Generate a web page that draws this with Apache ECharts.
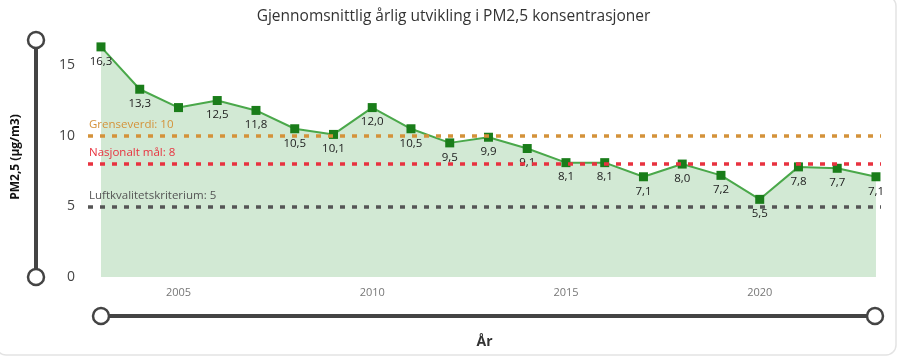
<!DOCTYPE html>
<html><head><meta charset="utf-8">
<script src="https://cdn.jsdelivr.net/npm/echarts@6/dist/echarts.min.js"></script>
<style>html,body{margin:0;padding:0;background:#fff}#c{width:907px;height:361px}</style>
</head><body><div id="c"></div>
<script>
const years = [2003,2004,2005,2006,2007,2008,2009,2010,2011,2012,2013,2014,2015,2016,2017,2018,2019,2020,2021,2022,2023];
const values = [16.3,13.3,12.0,12.5,11.8,10.5,10.1,12.0,10.5,9.5,9.9,9.1,8.1,8.1,7.1,8.0,7.2,5.5,7.8,7.7,7.1];
const hiddenLabelYears = [2005];
const xTickLabels = [2005,2010,2015,2020];
const yTicks = [0,5,10,15];
const limits = [
  {name:'Grenseverdi', value:10, color:'#d4923a'},
  {name:'Nasjonalt mål', value:8, color:'#e8323f'},
  {name:'Luftkvalitetskriterium', value:5, color:'#555555'}
];
const fmt = v => v.toFixed(1).replace('.', ',');
const FONT = "'Segoe UI','Open Sans','Noto Sans',sans-serif";
const chart = echarts.init(document.getElementById('c'));
chart.setOption({
  animation:false,
  textStyle:{fontFamily:FONT},
  title:{text:'Gjennomsnittlig årlig utvikling i PM2,5 konsentrasjoner',left:'center',top:4,
    textStyle:{fontSize:15.5,fontWeight:'normal',color:'#333',fontFamily:FONT}},
  grid:{left:88,right:26,top:37,bottom:84},
  xAxis:{type:'value',min:2002.665,max:2023.13,
    name:'År',nameLocation:'middle',nameGap:58,
    nameTextStyle:{fontSize:14,fontWeight:'bold',color:'#333',fontFamily:FONT},
    axisLine:{show:false},axisTick:{show:false},splitLine:{show:false},
    axisLabel:{customValues:xTickLabels,formatter:v=>String(v),color:'#777',fontSize:11,margin:10,fontFamily:FONT}},
  yAxis:{type:'value',min:0,max:17,
    name:'PM2,5 (µg/m3)',nameLocation:'middle',nameGap:66,nameRotate:90,
    nameTextStyle:{fontSize:12,fontWeight:'bold',color:'#111',fontFamily:FONT},
    axisLine:{show:false},axisTick:{show:false},splitLine:{show:false},
    axisLabel:{customValues:yTicks,color:'#444',fontSize:14,margin:13,fontFamily:FONT}},
  series:[{
    type:'line',
    data:years.map((y,i)=>({value:[y,values[i]],label:{show:!hiddenLabelYears.includes(y)}})),
    symbol:'rect',symbolSize:9,
    itemStyle:{color:'#1a7d1a'},
    lineStyle:{color:'#4aa84a',width:2},
    areaStyle:{color:'#d2e9d4',opacity:1},
    label:{show:true,position:'bottom',distance:4,formatter:p=>fmt(p.value[1]),color:'#222',fontSize:11.5,fontFamily:FONT},
    markLine:{silent:true,symbol:'none',
      data:limits.map(l=>({yAxis:l.value,
        lineStyle:{color:l.color,type:[5,7],width:3.5},
        label:{show:true,position:'insideStartTop',formatter:l.name+': '+l.value,color:l.color,fontSize:11.5,fontFamily:FONT,distance:[1,5]}}))}
  }],
  graphic:[
    {type:'rect',shape:{x:-4,y:-4,width:900,height:359,r:10},style:{fill:'none',stroke:'#e3e3e3',lineWidth:1.5},z:-1},
    {type:'line',shape:{x1:36,y1:40,x2:36,y2:277},style:{stroke:'#444',lineWidth:4}},
    {type:'circle',shape:{cx:36,cy:40,r:8},style:{fill:'#fff',stroke:'#444',lineWidth:2.5}},
    {type:'circle',shape:{cx:36,cy:277,r:8},style:{fill:'#fff',stroke:'#444',lineWidth:2.5}},
    {type:'line',shape:{x1:101,y1:316,x2:875,y2:316},style:{stroke:'#444',lineWidth:4}},
    {type:'circle',shape:{cx:101,cy:316,r:8},style:{fill:'#fff',stroke:'#444',lineWidth:2.5}},
    {type:'circle',shape:{cx:875,cy:316,r:8},style:{fill:'#fff',stroke:'#444',lineWidth:2.5}}
  ]
});
</script></body></html>
